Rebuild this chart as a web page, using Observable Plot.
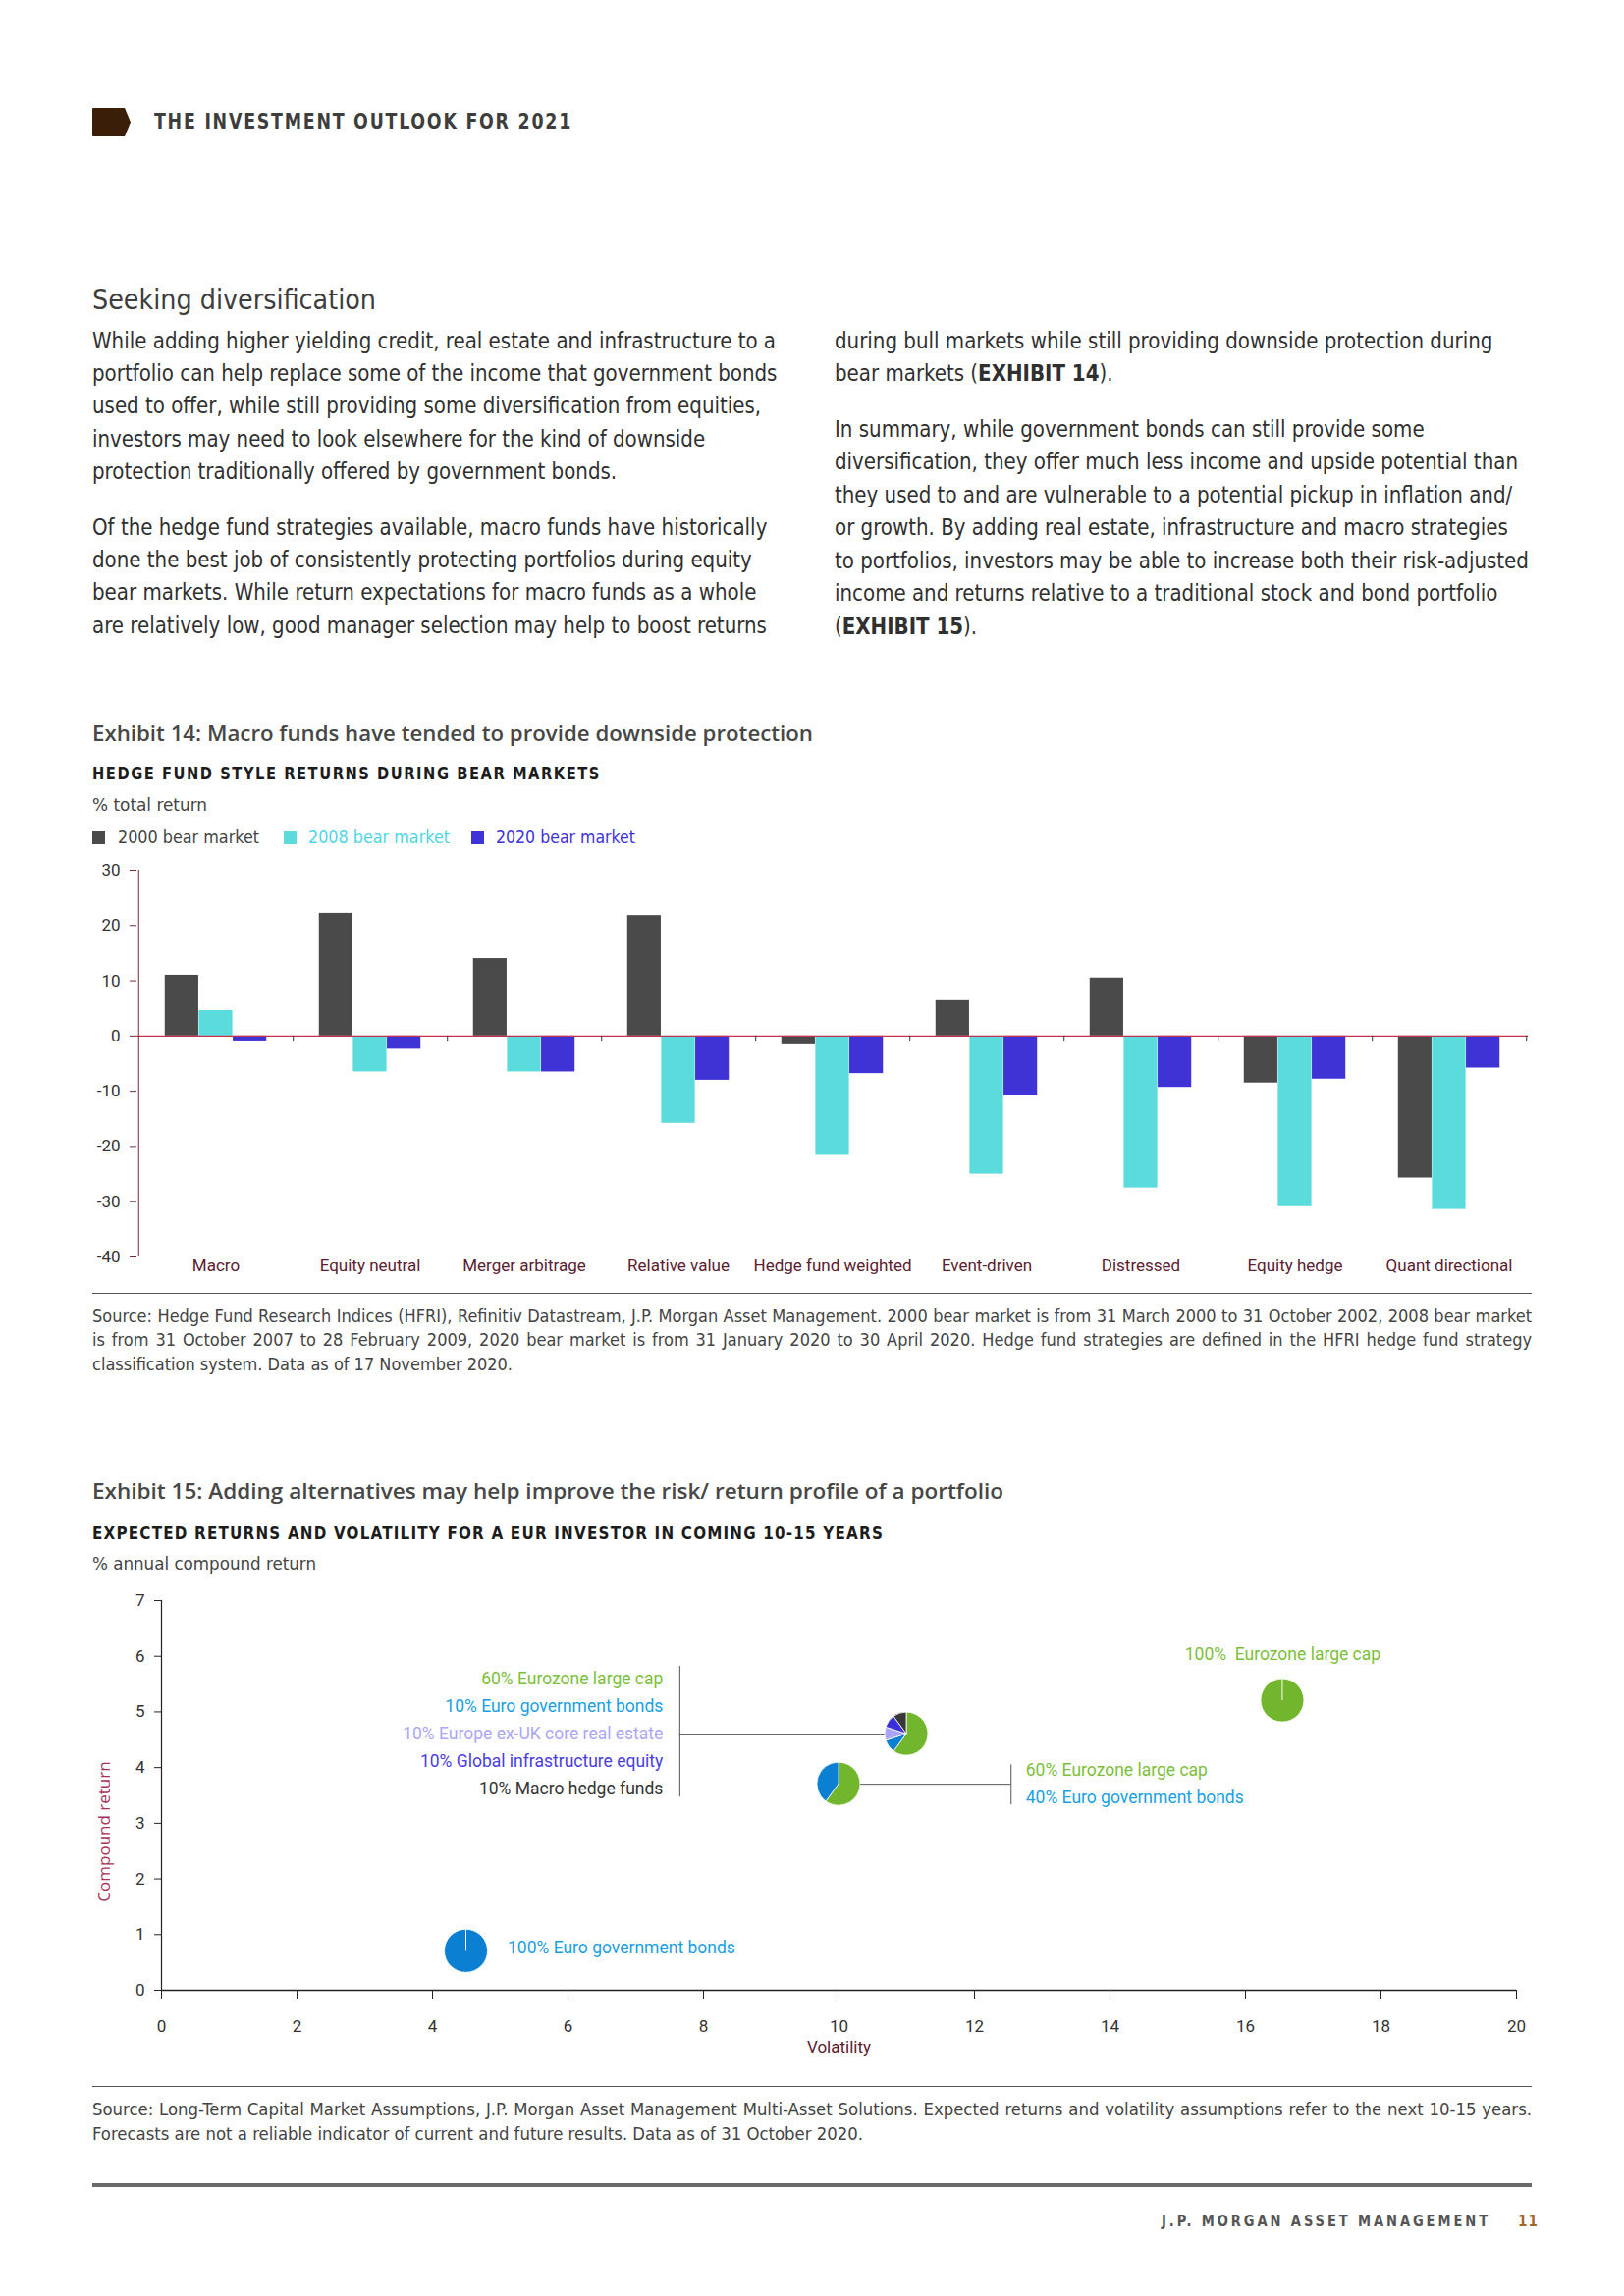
<!DOCTYPE html>
<html>
<head>
<meta charset="utf-8">
<script src="https://cdn.jsdelivr.net/npm/d3@7"></script>
<script src="https://cdn.jsdelivr.net/npm/@observablehq/plot@0.6"></script>
<style>
  html,body{margin:0;padding:0;background:#fff;}
  body{width:1654px;height:2339px;position:relative;overflow:hidden;
    font-family:"Liberation Sans Narrow","DejaVu Sans Condensed","Roboto Condensed",Roboto,sans-serif;}
  .t{position:absolute;white-space:nowrap;transform-origin:0 50%;}
  .rule{position:absolute;}
  .sw{position:absolute;width:13px;height:13px;}
</style>
</head>
<body>
<script>
// ---------------- DATA ----------------
const categories = ["Macro","Equity neutral","Merger arbitrage","Relative value","Hedge fund weighted","Event-driven","Distressed","Equity hedge","Quant directional"];
const seriesNames = ["2000 bear market","2008 bear market","2020 bear market"];
const bear2000 = [11.0, 22.2, 14.0, 21.8, -1.6, 6.4, 10.5, -8.5, -25.7];
const bear2008 = [4.6, -6.5, -6.5, -15.8, -21.6, -25.0, -27.5, -30.9, -31.4];
const bear2020 = [-0.9, -2.4, -6.5, -8.0, -6.8, -10.8, -9.3, -7.8, -5.8];
const yTicks14 = [-40, -30, -20, -10, 0, 10, 20, 30];

const portfolios = ["100% Euro government bonds", "60% Eurozone large cap / 40% Euro government bonds", "Diversified", "100% Eurozone large cap"];
const volatility = [4.5, 10.0, 11.0, 16.55];
const compoundReturn = [0.7, 3.7, 4.6, 5.2];
const assetClasses = ["Eurozone large cap","Euro government bonds","Europe ex-UK core real estate","Global infrastructure equity","Macro hedge funds"];
const weights = [[0,100,0,0,0],[60,40,0,0,0],[60,10,10,10,10],[100,0,0,0,0]];
const xTicks15 = [0,2,4,6,8,10,12,14,16,18,20];
const yTicks15 = [0,1,2,3,4,5,6,7];

const divLabels = ["60% Eurozone large cap","10% Euro government bonds","10% Europe ex-UK core real estate","10% Global infrastructure equity","10% Macro hedge funds"];
const mixLabels = ["60% Eurozone large cap","40% Euro government bonds"];
const bondsLabel = "100% Euro government bonds";
const equityLabel = "100%  Eurozone large cap";

// ---------------- STYLES ----------------
const seriesColors = ["#4a4a4a","#5bdbdb","#3f33d6"];
const seriesText = ["#444444","#4fd6e4","#3d33d8"];
const assetColors = ["#72b62e","#0b7fd2","#a9a5fa","#3c31d9","#383838"];
const divLabelColors = ["#7cbf3a","#1a9fe3","#aaa7f7","#4a3de0","#333333"];
const mixLabelColors = ["#7cbf3a","#1a9fe3"];
const plotFont = "Roboto, 'Liberation Sans', sans-serif";

// ---------------- TEXT HELPERS ----------------
function addText(html, o) {
  const d = document.createElement("div");
  d.className = "t";
  const L = o.lh || Math.round(o.size * 1.35);
  d.style.left = o.x + "px";
  d.style.top = (o.cy - L / 2) + "px";
  d.style.fontSize = o.size + "px";
  d.style.lineHeight = L + "px";
  d.style.fontWeight = o.weight || 400;
  d.style.color = o.color || "#333";
  if (o.ls) d.style.letterSpacing = o.ls + "px";
  if (o.family) d.style.fontFamily = o.family;
  d.innerHTML = html;
  document.body.appendChild(d);
  if (o.width) {
    const w = d.getBoundingClientRect().width;
    d.style.transform = `scaleX(${o.width / w})`;
  }
  return d;
}
function rule(x, y, w, h, c) {
  const d = document.createElement("div");
  d.className = "rule";
  d.style.cssText = `left:${x}px;top:${y}px;width:${w}px;height:${h}px;background:${c};`;
  document.body.appendChild(d);
}

// Header tag
const tag = document.createElementNS("http://www.w3.org/2000/svg", "svg");
tag.setAttribute("width", 42); tag.setAttribute("height", 31);
tag.style.cssText = "position:absolute;left:93px;top:109px;";
tag.innerHTML = '<path d="M2,1 L34,1 L40,15.5 L34,30 L2,30 Q1,30 1,29 L1,2 Q1,1 2,1 Z" fill="#3b1e08"/>';
document.body.appendChild(tag);

addText("THE INVESTMENT OUTLOOK FOR 2021", {x:157, cy:124, size:22, weight:700, color:"#3d3d3d", ls:2, width:426});
addText("Seeking diversification", {x:94, cy:306, size:28, color:"#3d3d3d", width:289});

// Body text
const leftP1 = ["While adding higher yielding credit, real estate and infrastructure to a",
 "portfolio can help replace some of the income that government bonds",
 "used to offer, while still providing some diversification from equities,",
 "investors may need to look elsewhere for the kind of downside",
 "protection traditionally offered by government bonds."];
const leftP2 = ["Of the hedge fund strategies available, macro funds have historically",
 "done the best job of consistently protecting portfolios during equity",
 "bear markets. While return expectations for macro funds as a whole",
 "are relatively low, good manager selection may help to boost returns"];
const rightP1 = ["during bull markets while still providing downside protection during",
 "bear markets (<b>EXHIBIT 14</b>)."];
const rightP2 = ["In summary, while government bonds can still provide some",
 "diversification, they offer much less income and upside potential than",
 "they used to and are vulnerable to a potential pickup in inflation and/",
 "or growth. By adding real estate, infrastructure and macro strategies",
 "to portfolios, investors may be able to increase both their risk-adjusted",
 "income and returns relative to a traditional stock and bond portfolio",
 "(<b>EXHIBIT 15</b>)."];
const bodyOpt = {size:23, color:"#303030", lh:33};
const ref = addText(leftP1[0], {...bodyOpt, x:94, cy:347.5});
const kBody = 696 / ref.getBoundingClientRect().width;
ref.remove();
function para(lines, x, cy0, step) {
  lines.forEach((l, i) => {
    const d = addText(l, {...bodyOpt, x, cy: cy0 + i * step});
    d.style.transform = `scaleX(${kBody})`;
  });
}
para(leftP1, 94, 347.5, 33.2);
para(leftP2, 94, 537, 33.4);
para(rightP1, 850, 347.5, 33.2);
para(rightP2, 850, 437, 33.5);

// Exhibit 14 headings
const titleFont = "'Open Sans', Roboto, sans-serif";
addText("Exhibit 14: Macro funds have tended to provide downside protection", {x:94, cy:746, size:22, weight:600, color:"#474747", width:734, family:titleFont});
addText("HEDGE FUND STYLE RETURNS DURING BEAR MARKETS", {x:94, cy:788, size:17, weight:700, color:"#1c1c1c", ls:1.6, width:518});
addText("% total return", {x:94, cy:820, size:18, color:"#444", width:117});
const swX = [94, 289, 480], lgX = [120, 314, 505], lgW = [144, 144, 142];
seriesNames.forEach((s, j) => {
  const sw = document.createElement("div");
  sw.className = "sw";
  sw.style.left = swX[j] + "px"; sw.style.top = (853 - 6.5) + "px"; sw.style.background = seriesColors[j];
  document.body.appendChild(sw);
  addText(s, {x: lgX[j], cy: 853, size: 18, color: seriesText[j], width: lgW[j]});
});

// Exhibit 14 chart
const x0_14 = 139, x1_14 = 1556;
const bw14 = (x1_14 - x0_14) / categories.length;
const barW = bw14 * 0.22, groupPad = (bw14 - 3 * barW) / 2;
const seriesValues = [bear2000, bear2008, bear2020];
const chart14 = Plot.plot({
  width: 1654, height: 444,
  marginLeft: x0_14, marginRight: 1654 - x1_14, marginTop: 20, marginBottom: 30,
  x: {domain: categories, padding: 0, label: null},
  y: {domain: [-40, 30], label: null},
  style: {fontFamily: plotFont, fontSize: "17px", color: "#333", background: "transparent", overflow: "visible"},
  marks: [
    ...seriesNames.map((s, j) => Plot.barY(
      categories.map((c, i) => ({category: c, value: seriesValues[j][i]})),
      {x: "category", y: "value", fill: seriesColors[j],
       insetLeft: groupPad + barW * j, insetRight: bw14 - groupPad - barW * (j + 1)})),
    Plot.ruleY([0], {stroke: "#c2324f", strokeWidth: 1.3}),
    Plot.ruleX(categories, {x: d => d, y1: 0, y2: -1.1, dx: bw14 / 2, stroke: "#333"}),
    Plot.ruleX([categories[0]], {x: d => d, y1: -40, y2: 30, dx: -bw14 / 2, stroke: "#7a2a38"}),
    Plot.axisY({ticks: yTicks14, tickSize: 7, tickPadding: 10, tickFormat: d => String(d), stroke: "#7a2a38", fill: "#333", label: null}),
    Plot.axisX({tickSize: 0, tickPadding: 2, fill: "#5a2030", label: null})
  ]
});
chart14.style.position = "absolute"; chart14.style.left = "0px"; chart14.style.top = "866px";
document.body.appendChild(chart14);

rule(94, 1316.5, 1466, 1.5, "#555");

// Source notes (justified lines)
function source(lines, cy0, step, lastW) {
  const last = addText(lines[lines.length - 1], {x: 94, cy: cy0 + (lines.length - 1) * step, size: 17, color: "#444"});
  const k = lastW / last.getBoundingClientRect().width;
  last.style.transform = `scaleX(${k})`;
  lines.slice(0, -1).forEach((l, i) => {
    const d = addText(l, {x: 94, cy: cy0 + i * step, size: 17, color: "#444"});
    d.style.width = (1466 / k) + "px";
    d.style.textAlign = "justify";
    d.style.textAlignLast = "justify";
    d.style.whiteSpace = "normal";
    d.style.transform = `scaleX(${k})`;
  });
}
source(["Source: Hedge Fund Research Indices (HFRI), Refinitiv Datastream, J.P. Morgan Asset Management. 2000 bear market is from 31 March 2000 to 31 October 2002, 2008 bear market",
  "is from 31 October 2007 to 28 February 2009, 2020 bear market is from 31 January 2020 to 30 April 2020. Hedge fund strategies are defined in the HFRI hedge fund strategy",
  "classification system. Data as of 17 November 2020."], 1341, 24.5, 428);

// Exhibit 15 headings
addText("Exhibit 15: Adding alternatives may help improve the risk/ return profile of a portfolio", {x:94, cy:1518, size:22, weight:600, color:"#474747", width:928, family:titleFont});
addText("EXPECTED RETURNS AND VOLATILITY FOR A EUR INVESTOR IN COMING 10-15 YEARS", {x:94, cy:1562, size:17, weight:700, color:"#1c1c1c", ls:1.2, width:806});
addText("% annual compound return", {x:94, cy:1593, size:18, color:"#444", width:228});

// Exhibit 15 chart
const R = 22;
const divBracket = {x: 7.65, yTop: 5.82, yBottom: 3.47};
const mixBracket = {x: 12.54, yTop: 4.05, yBottom: 3.33};
function pieMark(index, scales) {
  const g = d3.create("svg:g");
  const arc = d3.arc().innerRadius(0).outerRadius(R);
  portfolios.forEach((p, i) => {
    const cx = scales.x(volatility[i]), cy = scales.y(compoundReturn[i]);
    const gi = g.append("g").attr("transform", `translate(${cx},${cy})`);
    const arcs = d3.pie().sort(null).value(d => d)(weights[i]).filter(a => a.value > 0);
    gi.selectAll("path").data(arcs).join("path")
      .attr("d", arc).attr("fill", a => assetColors[a.index])
      .attr("stroke", "#fff").attr("stroke-width", 0.8).attr("stroke-linejoin", "round");
    if (arcs.length === 1) gi.append("line").attr("x1", 0).attr("y1", 0).attr("x2", 0).attr("y2", -R)
      .attr("stroke", "#fff").attr("stroke-width", 1);
  });
  return g.node();
}
const chart15 = Plot.plot({
  width: 1654, height: 510,
  marginLeft: 164, marginRight: 110, marginTop: 25, marginBottom: 88,
  x: {domain: [0, 20], label: null},
  y: {domain: [0, 7], label: null},
  style: {fontFamily: plotFont, fontSize: "17px", color: "#333", background: "transparent", overflow: "visible"},
  marks: [
    Plot.ruleX([divBracket.x], {y1: divBracket.yTop, y2: divBracket.yBottom, stroke: "#555"}),
    Plot.ruleY([compoundReturn[2]], {x1: divBracket.x, x2: volatility[2], stroke: "#555"}),
    Plot.ruleX([mixBracket.x], {y1: mixBracket.yTop, y2: mixBracket.yBottom, stroke: "#555"}),
    Plot.ruleY([compoundReturn[1]], {x1: volatility[1], x2: mixBracket.x, stroke: "#555"}),
    Plot.ruleY([0], {stroke: "#222", strokeWidth: 1.5}),
    Plot.ruleX([0], {stroke: "#222", strokeWidth: 1.2}),
    Plot.axisX({ticks: xTicks15, tickSize: 9, tickPadding: 21, tickFormat: d => String(d), stroke: "#222", fill: "#333", label: null}),
    Plot.axisY({ticks: yTicks15, tickSize: 7, tickPadding: 10, tickFormat: d => String(d), stroke: "#222", fill: "#333", label: null}),
    pieMark,
    ...divLabels.map((t, k) => Plot.text([t], {x: divBracket.x, y: compoundReturn[2], dx: -17, dy: (k - 2) * 28,
      textAnchor: "end", fill: divLabelColors[k], fontSize: 17.5})),
    ...mixLabels.map((t, k) => Plot.text([t], {x: mixBracket.x, y: compoundReturn[1], dx: 15, dy: (k - 0.5) * 28,
      textAnchor: "start", fill: mixLabelColors[k], fontSize: 17.5})),
    Plot.text([bondsLabel], {x: volatility[0], y: compoundReturn[0], dx: 42, dy: -3, textAnchor: "start", fill: "#1a9fe3", fontSize: 17.5}),
    Plot.text([equityLabel], {x: volatility[3], y: compoundReturn[3], dy: -47, textAnchor: "middle", fill: "#7cbf3a", fontSize: 17.5}),
    Plot.text(["Volatility"], {frameAnchor: "bottom", dy: 63, fill: "#5a2030", fontSize: 17})
  ]
});
chart15.style.position = "absolute"; chart15.style.left = "0px"; chart15.style.top = "1605px";
document.body.appendChild(chart15);

// Rotated y-axis title for Exhibit 15
const yTitle = document.createElement("div");
yTitle.textContent = "Compound return";
yTitle.style.cssText = "position:absolute;left:105px;top:1866px;white-space:nowrap;font-family:'Open Sans',sans-serif;font-size:17px;color:#a8325a;transform:translate(-50%,-50%) rotate(-90deg);";
document.body.appendChild(yTitle);

rule(94, 2124.5, 1466, 1.5, "#555");
source(["Source: Long-Term Capital Market Assumptions, J.P. Morgan Asset Management Multi-Asset Solutions. Expected returns and volatility assumptions refer to the next 10-15 years.",
  "Forecasts are not a reliable indicator of current and future results. Data as of 31 October 2020."], 2149, 25, 785);

rule(94, 2224, 1466, 3.5, "#6a6a6a");
addText("J.P. MORGAN ASSET MANAGEMENT", {x: 1183, cy: 2263, size: 15, weight: 700, color: "#555", ls: 3, width: 335});
addText("11", {x: 1546, cy: 2263, size: 15, weight: 700, color: "#a0652d", ls: 1});
</script>
</body>
</html>
